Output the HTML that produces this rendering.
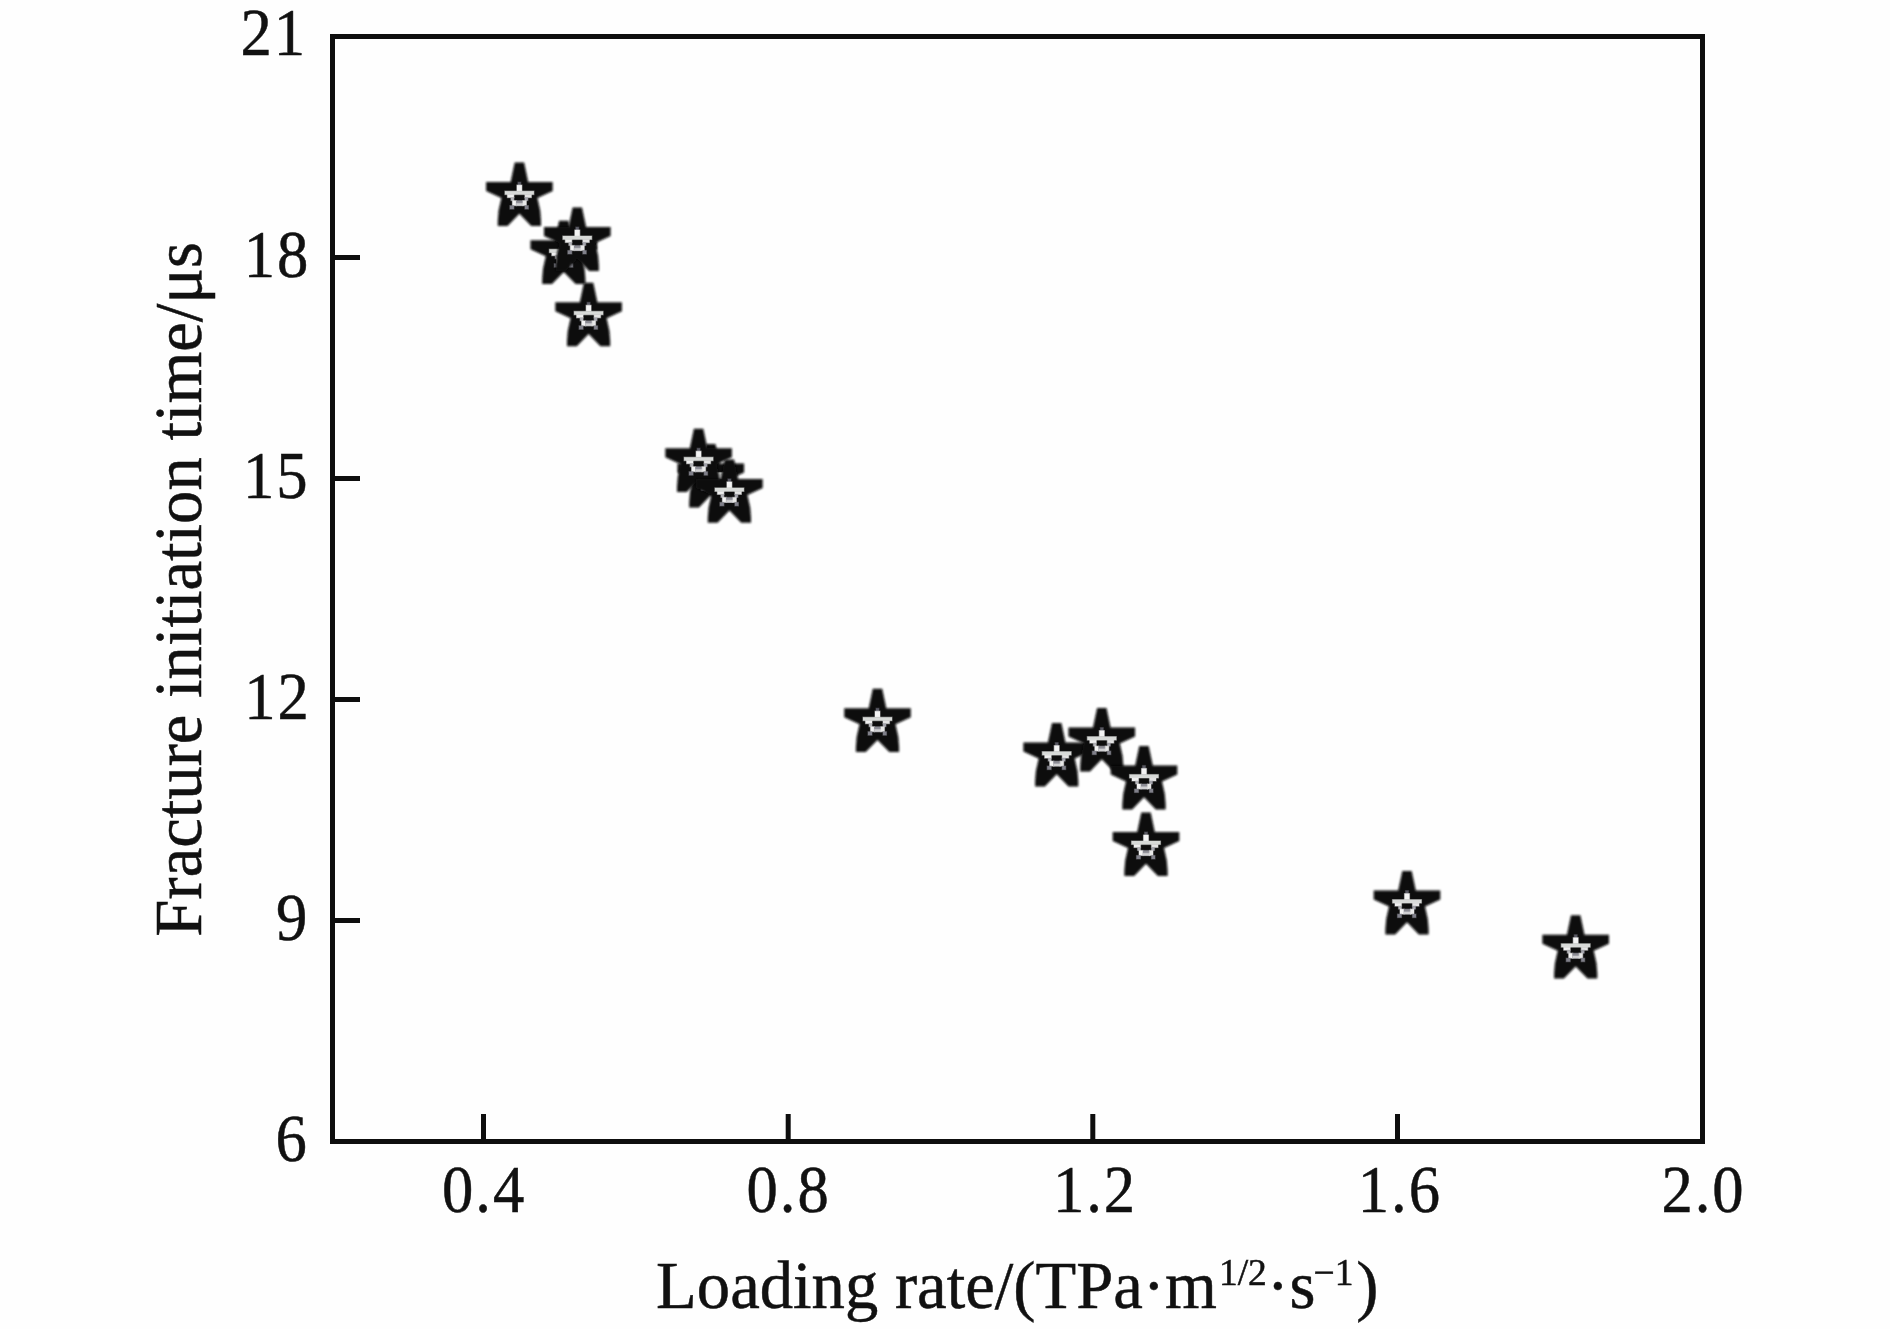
<!DOCTYPE html>
<html><head><meta charset="utf-8"><title>Chart</title>
<style>
html,body{margin:0;padding:0;background:#fefefe;}
body{width:1890px;height:1329px;overflow:hidden;position:relative;}
svg{position:absolute;left:0;top:0;display:block;will-change:transform;}
text{font-family:"Liberation Serif",serif;font-size:66.67px;fill:#111;stroke:#111;stroke-width:0.5px;}
</style></head><body>
<svg width="1890" height="1329" viewBox="0 0 1890 1329">
<defs>
<g id="st">
<polygon filter="url(#bl)" fill="#0b0b0b" points="30.3,0 39.7,0 43.8,19.5 68.3,19.5 68.3,28.5 53,35.5 55.8,48 56.6,58 56.6,63.4 46.8,63.4 35,51.2 23.2,63.4 13.4,63.4 13.4,58 14.2,48 17,35.5 1.7,28.5 1.7,19.5 26.2,19.5"/>
<g stroke-width="1.2" stroke-opacity="0.45">
<rect x="33.5" y="19.5" width="3" height="3" fill="#5a5a64" stroke="#5a5a64"/>
<rect x="32.5" y="22.5" width="5" height="6" fill="#f4f4f4" stroke="#f4f4f4"/>
<rect x="20.5" y="28.5" width="29" height="3.5" fill="#d8dad8" stroke="#d8dad8"/>
<rect x="23" y="32" width="6.5" height="3" fill="#f0f0f0" stroke="#f0f0f0"/>
<rect x="40.5" y="32" width="6.5" height="3" fill="#e4e4e4" stroke="#e4e4e4"/>
<rect x="26.5" y="35" width="3" height="3" fill="#b4b4b8" stroke="#b4b4b8"/>
<rect x="40.5" y="35" width="3" height="3" fill="#a2a2aa" stroke="#a2a2aa"/>
<rect x="28" y="38" width="4" height="5" fill="#f4f4f4" stroke="#f4f4f4"/>
<rect x="32" y="38" width="6.5" height="5" fill="#8c8c94" stroke="#8c8c94"/>
<rect x="32" y="40.8" width="6.5" height="2.2" fill="#d0d0d2" stroke="#d0d0d2"/>
<rect x="38.5" y="38" width="3.5" height="5" fill="#e8e8e8" stroke="#e8e8e8"/>
<rect x="25.5" y="43" width="4" height="3.5" fill="#80808a" stroke="#80808a"/>
<rect x="40.5" y="43" width="3.5" height="3.5" fill="#80808a" stroke="#80808a"/>
</g>
</g>
<filter id="bl" x="-10%" y="-10%" width="120%" height="120%"><feGaussianBlur stdDeviation="1"/></filter>
</defs>
<rect x="332.5" y="36.5" width="1370" height="1105" fill="none" stroke="#0e0e0e" stroke-width="5"/>
<rect x="481.0" y="1114" width="5" height="26" fill="#0e0e0e"/>
<rect x="785.7" y="1114" width="5" height="26" fill="#0e0e0e"/>
<rect x="1090.3" y="1114" width="5" height="26" fill="#0e0e0e"/>
<rect x="1395.0" y="1114" width="5" height="26" fill="#0e0e0e"/>
<rect x="334" y="255.0" width="26" height="5" fill="#0e0e0e"/>
<rect x="334" y="476.0" width="26" height="5" fill="#0e0e0e"/>
<rect x="334" y="697.0" width="26" height="5" fill="#0e0e0e"/>
<rect x="334" y="918.0" width="26" height="5" fill="#0e0e0e"/>

<g>
<text transform="translate(484.1,1212) scale(0.94,1.03)" text-anchor="middle" style="letter-spacing:2.1px">0.4</text>
<text transform="translate(788.6,1212) scale(0.94,1.03)" text-anchor="middle" style="letter-spacing:2.1px">0.8</text>
<text transform="translate(1095.0,1212) scale(0.94,1.03)" text-anchor="middle" style="letter-spacing:2.1px">1.2</text>
<text transform="translate(1399.9,1212) scale(0.94,1.03)" text-anchor="middle" style="letter-spacing:2.1px">1.6</text>
<text transform="translate(1703.5,1212) scale(0.94,1.03)" text-anchor="middle" style="letter-spacing:2.1px">2.0</text>

<text transform="translate(307.0,55.0) scale(0.94,1.03)" text-anchor="end" style="letter-spacing:2.1px">21</text>
<text transform="translate(310.3,276.8) scale(0.94,1.03)" text-anchor="end" style="letter-spacing:2.1px">18</text>
<text transform="translate(309.6,497.8) scale(0.94,1.03)" text-anchor="end" style="letter-spacing:2.1px">15</text>
<text transform="translate(310.9,718.8) scale(0.94,1.03)" text-anchor="end" style="letter-spacing:2.1px">12</text>
<text transform="translate(309.3,939.8) scale(0.94,1.03)" text-anchor="end" style="letter-spacing:2.1px">9</text>
<text transform="translate(308.8,1160.8) scale(0.94,1.03)" text-anchor="end" style="letter-spacing:2.1px">6</text>

</g>
<text x="656.1" y="1307.6">Loading rate/(TPa·m</text>
<text x="1218.9" y="1285.4" style="font-size:37.5px">1/2</text>
<text x="1266.8" y="1307.6">·</text>
<text x="1289.6" y="1307.6">s</text>
<text x="1313.5" y="1285.4" style="font-size:37.5px">−1</text>
<text x="1356.2" y="1307.6">)</text>
<text transform="translate(201.4,589.3) rotate(-90) scale(1,1.03)" text-anchor="middle">Fracture initiation time/μs</text>
<g>
<use href="#st" x="484.4" y="162.6"/>
<use href="#st" x="528.8" y="220.7"/>
<use href="#st" x="542.3" y="207.5"/>
<use href="#st" x="553.6" y="282.8"/>
<use href="#st" x="675.8" y="444.0"/>
<use href="#st" x="663.6" y="428.7"/>
<use href="#st" x="694.4" y="459.4"/>
<use href="#st" x="842.5" y="688.7"/>
<use href="#st" x="1021.7" y="723.1"/>
<use href="#st" x="1066.8" y="708.1"/>
<use href="#st" x="1109.0" y="746.0"/>
<use href="#st" x="1111.0" y="812.5"/>
<use href="#st" x="1372.0" y="871.1"/>
<use href="#st" x="1540.7" y="915.2"/>
</g>
</svg>
</body></html>
